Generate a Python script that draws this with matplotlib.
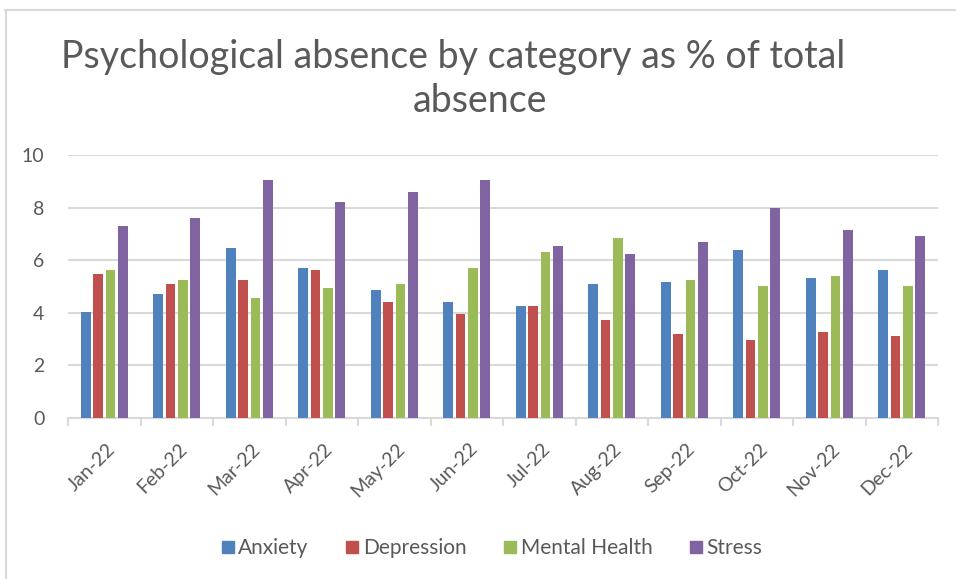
import matplotlib
matplotlib.use("Agg")
import matplotlib.pyplot as plt
import numpy as np
from matplotlib.lines import Line2D
from matplotlib.transforms import ScaledTranslation

months = ["Jan-22", "Feb-22", "Mar-22", "Apr-22", "May-22", "Jun-22",
          "Jul-22", "Aug-22", "Sep-22", "Oct-22", "Nov-22", "Dec-22"]
anxiety = [4.03, 4.71, 6.46, 5.70, 4.86, 4.41, 4.25, 5.09, 5.16, 6.38, 5.32, 5.62]
depression = [5.47, 5.09, 5.24, 5.62, 4.41, 3.95, 4.25, 3.72, 3.19, 2.96, 3.27, 3.11]
mental_health = [5.62, 5.24, 4.56, 4.94, 5.09, 5.70, 6.30, 6.84, 5.24, 5.01, 5.39, 5.01]
stress = [7.29, 7.59, 9.04, 8.20, 8.58, 9.04, 6.53, 6.23, 6.68, 7.97, 7.14, 6.91]
series_names = ["Anxiety", "Depression", "Mental Health", "Stress"]
colors = ["#4f81bd", "#c0504d", "#9bbb59", "#8064a2"]
yticks = [0, 2, 4, 6, 8, 10]
title_line1 = "Psychological absence by category as % of total"
title_line2 = "absence"

plt.rcParams['font.family'] = ['Lato', 'DejaVu Sans']
text_color = "#595959"
grid_color = "#d9d9d9"

fig = plt.figure(figsize=(9.56, 5.79), dpi=100)
ax = fig.add_axes([68/956, 1-418/579, 870/956, 263/579])

x = np.arange(len(months))
bw = 0.135
step = 0.17
all_series = [anxiety, depression, mental_health, stress]
for i, (vals, c) in enumerate(zip(all_series, colors)):
    ax.bar(x + (i - 1.5) * step, vals, width=bw, color=c, zorder=3)

ax.set_xlim(-0.5, len(months) - 0.5)
ax.set_ylim(0, 10)
ax.set_yticks(yticks)
ax.set_yticklabels([str(t) for t in yticks], fontsize=14, color=text_color)
ax.tick_params(axis='y', length=0, pad=17)
ax.yaxis.grid(True, color=grid_color, linewidth=1.5, zorder=0)

# x ticks at category boundaries (marks), labels at centers
ax.set_xticks(np.arange(-0.5, len(months), 1.0))
ax.set_xticklabels([])
ax.tick_params(axis='x', which='major', length=6, width=1.5, color=grid_color)
ax.set_xticks(x, minor=True)
ax.set_xticklabels(months, minor=True, rotation=45, ha='right',
                   rotation_mode='anchor', fontsize=14, color=text_color)
ax.tick_params(axis='x', which='minor', length=0, pad=16)
offset = ScaledTranslation(2/100, 0, fig.dpi_scale_trans)
for lbl in ax.get_xticklabels(minor=True):
    lbl.set_transform(lbl.get_transform() + offset)

for s in ["top", "right", "left"]:
    ax.spines[s].set_visible(False)
ax.spines["bottom"].set_color(grid_color)
ax.spines["bottom"].set_linewidth(1.5)

fig.text(453/956, 1-68/579, title_line1, ha='center', va='baseline', fontsize=27,
         color=text_color)
fig.text(480/956, 1-112/579, title_line2, ha='center', va='baseline', fontsize=27,
         color=text_color)

handles = [Line2D([0], [0], marker='s', linestyle='', markersize=8,
                  markerfacecolor=c, markeredgecolor=c) for c in colors]
fig.legend(handles, series_names, loc='center', bbox_to_anchor=(491/956, 1-548/579),
           ncol=4, frameon=False, fontsize=15, labelcolor=text_color,
           handletextpad=0.1, columnspacing=1.7, handlelength=0.8)

# chart border (cropped: left and top only)
fig.add_artist(Line2D([6/956, 6/956], [0, 1-10/579], transform=fig.transFigure,
                      color=grid_color, linewidth=1.5))
fig.add_artist(Line2D([5/956, 1], [1-10/579, 1-10/579], transform=fig.transFigure,
                      color=grid_color, linewidth=1.5))

fig.savefig("out.png", dpi=100)
